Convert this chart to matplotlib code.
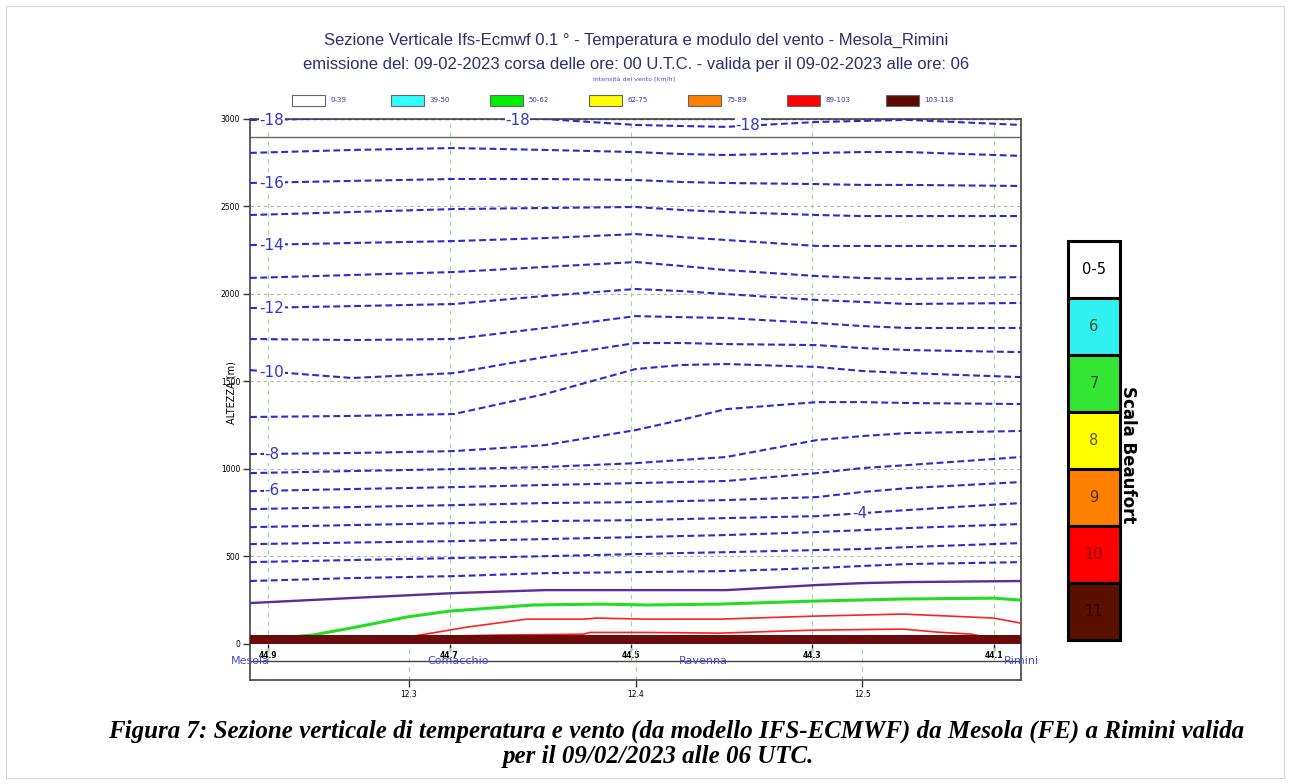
import numpy as np
import matplotlib.pyplot as plt
from matplotlib.patches import Rectangle

# section Mesola -> Rimini (end points)
section_lon = [12.23, 12.57]
section_lat = [44.92, 44.07]

lat_ticks = [44.9, 44.7, 44.5, 44.3, 44.1]
lon_ticks = [12.3, 12.4, 12.5]
alt_ticks = [0, 500, 1000, 1500, 2000, 2500, 3000]

cities = ["Mesola", "Comacchio", "Ravenna", "Rimini"]
city_lon = [12.23, 12.322, 12.43, 12.57]

# isotherm heights (m), one row per temperature
iso_lon = [12.23, 12.275, 12.32, 12.36, 12.40, 12.42, 12.44, 12.48, 12.50, 12.52, 12.57]
iso_temp = [-18, -17, -16, -15, -14, -13, -12, -11, -10, -9,
            -8, -7, -6, -5, -4, -3, -2, -1]
iso_alt = [
    [2994, 3005, 3010, 3000, 2966, 2960, 2955, 2983, 2989, 2995, 2966],
    [2806, 2823, 2834, 2823, 2811, 2800, 2794, 2806, 2811, 2811, 2789],
    [2634, 2646, 2657, 2657, 2651, 2640, 2634, 2628, 2623, 2623, 2617],
    [2451, 2468, 2485, 2491, 2497, 2480, 2468, 2451, 2445, 2445, 2445],
    [2279, 2291, 2302, 2319, 2342, 2325, 2308, 2274, 2274, 2274, 2274],
    [2091, 2108, 2125, 2154, 2182, 2160, 2136, 2102, 2091, 2085, 2096],
    [1919, 1930, 1942, 1988, 2028, 2016, 1999, 1965, 1954, 1942, 1948],
    [1742, 1736, 1742, 1805, 1873, 1867, 1862, 1833, 1816, 1805, 1805],
    [1564, 1519, 1547, 1639, 1719, 1719, 1713, 1707, 1690, 1679, 1667],
    [1296, 1302, 1313, 1427, 1570, 1593, 1599, 1582, 1559, 1547, 1524],
    [1084, 1090, 1101, 1135, 1221, 1279, 1341, 1381, 1381, 1376, 1370],
    [975, 987, 998, 1010, 1032, 1050, 1067, 1164, 1187, 1204, 1216],
    [872, 884, 895, 907, 918, 924, 930, 975, 1004, 1021, 1067],
    [769, 781, 792, 804, 809, 815, 821, 838, 867, 889, 924],
    [666, 678, 689, 701, 706, 712, 718, 729, 746, 764, 804],
    [569, 578, 586, 598, 609, 615, 621, 638, 649, 661, 684],
    [466, 478, 489, 500, 512, 518, 523, 535, 541, 552, 575],
    [358, 375, 386, 403, 409, 412, 415, 432, 444, 455, 466],
]
purple_alt = [232, 261, 289, 306, 306, 306, 306, 335, 346, 352, 358]

# contour labels
label_temp = [-18, -18, -18, -16, -14, -12, -10, -8, -6, -4]
label_lon = [12.2397, 12.348, 12.4496, 12.2397, 12.2397, 12.2397,
             12.2397, 12.2397, 12.2397, 12.499]
label_alt = [2989, 2989, 2960, 2634, 2279, 1919, 1553, 1079, 878, 746]

# wind speed lines near the ground
green_lon = [12.250, 12.258, 12.277, 12.299, 12.318, 12.355, 12.384,
             12.405, 12.437, 12.478, 12.517, 12.558, 12.570]
green_alt = [40, 50, 95, 152, 186, 221, 226, 221, 226, 243, 255, 260, 249]
red_outer_lon = [12.300, 12.305, 12.326, 12.352, 12.377, 12.383, 12.405,
                 12.437, 12.478, 12.518, 12.548, 12.558, 12.570]
red_outer_alt = [40, 49, 95, 140, 140, 146, 140, 140, 157, 169, 152, 146, 117]
red_inner_lon = [12.320, 12.340, 12.377, 12.380, 12.405, 12.437, 12.478,
                 12.518, 12.533, 12.548, 12.552]
red_inner_alt = [44, 49, 54, 64, 64, 60, 77, 83, 66, 54, 44]
band_lon = [12.23, 12.57]
band_top = [47, 47]

# wind legend
wind_labels = ["0-39", "39-50", "50-62", "62-75", "75-89", "89-103", "103-118"]
wind_colors = ["white", "#33ffff", "#00ee00", "#ffff00", "#ff8000",
               "#ff0000", "#5c0a00"]

# beaufort scale
beaufort_labels = ["0-5", "6", "7", "8", "9", "10", "11"]
beaufort_colors = ["white", "#30f0f0", "#33e633", "#ffff00", "#ff8000",
                   "#ff0000", "#5a1000"]
beaufort_text = ["black", "#2d5a2d", "#1e501e", "#5a5a10", "#5a2a00",
                 "#880000", "#3a0000"]

title1 = "Sezione Verticale Ifs-Ecmwf 0.1 \u00b0 - Temperatura e modulo del vento - Mesola_Rimini"
title2 = "emissione del: 09-02-2023 corsa delle ore: 00 U.T.C. - valida per il 09-02-2023 alle ore: 06"
cap1 = "Figura 7: Sezione verticale di temperatura e vento (da modello IFS-ECMWF) da Mesola (FE) a Rimini valida"
cap2 = "per il 09/02/2023 alle 06 UTC."


slope = (section_lat[1] - section_lat[0]) / (section_lon[1] - section_lon[0])

def lon_to_lat(x):
    return section_lat[0] + (np.asarray(x) - section_lon[0]) * slope

def lat_to_lon(y):
    return section_lon[0] + (np.asarray(y) - section_lat[0]) / slope


W, H = 1290, 784
fig = plt.figure(figsize=(W / 100, H / 100), dpi=100)

ymin, ymax = -208, 3000
ax = fig.add_axes([250 / W, 1 - 680 / H, 771 / W, 561 / H])
ax.set_xlim(section_lon[0], section_lon[1])
ax.set_ylim(ymin, ymax)

# grid
for a in alt_ticks[1:-1]:
    ax.axhline(a, color="#b4b4a4", lw=0.8, ls=(0, (3, 3)), zorder=1)
ax.axhline(alt_ticks[-1], color="#555555", lw=1.0, ls=(0, (3, 2)), zorder=1)
ax.axhline(2897, color="#666666", lw=1.0, zorder=1)
ax.vlines(lat_to_lon(lat_ticks), -100, 3000, colors="#9ad89a", lw=0.8,
          linestyles=(0, (4, 4)), zorder=1)
ax.vlines(lon_ticks, ymin, -20, colors="#9ad89a", lw=0.8,
          linestyles=(0, (4, 4)), zorder=1)

# isotherms
for t, alts in zip(iso_temp, iso_alt):
    ax.plot(iso_lon, alts, color="#2b2bd0", lw=1.5, ls=(0, (3.3, 1.7)), zorder=3)
ax.plot(iso_lon, purple_alt, color="#5a2c9c", lw=1.7, zorder=3)

for t, x, y in zip(label_temp, label_lon, label_alt):
    ax.text(x, y, str(t), color="#3535c8", fontsize=11, ha="center", va="center",
            zorder=4, bbox=dict(fc="white", ec="none", pad=0.3))

# wind
ax.plot(green_lon, green_alt, color="#22dd22", lw=2.2, zorder=3)
ax.plot(red_outer_lon, red_outer_alt, color="#ff2020", lw=1.2, zorder=3)
ax.plot(red_inner_lon, red_inner_alt, color="#ff2020", lw=1.2, zorder=3)
ax.fill_between(band_lon, 0, band_top, color="#6b0b0b", lw=0, zorder=5)

# city line
ax.axhline(-100, color="#444444", lw=1.0, zorder=2)
for name, x in zip(cities, city_lon):
    ax.text(x, -100, name, color="#4a4ad0", fontsize=8, ha="center", va="center",
            zorder=6)

ax.set_yticks(alt_ticks)
ax.set_xticks(lon_ticks)
ax.set_xticklabels([str(v) for v in lon_ticks])
ax.tick_params(labelsize=5.5, length=5, width=1, color="#333333", pad=2)
for s in ax.spines.values():
    s.set_color("#444444")
    s.set_linewidth(1.2)
ax.set_ylabel("ALTEZZA (m)", fontsize=7)
ax.yaxis.set_label_coords(-14 / 771, (680 - 393) / 561)

sec = ax.secondary_xaxis(-ymin / (ymax - ymin), functions=(lon_to_lat, lat_to_lon))
sec.set_xticks(lat_ticks)
sec.set_xticklabels([str(v) for v in lat_ticks])
sec.tick_params(labelsize=5.5, length=5, width=1, color="#222222", pad=0.5)
for lab in sec.get_xticklabels():
    lab.set_fontweight("bold")
sec.spines["bottom"].set_visible(False)

# titles
fig.text(636 / W, 1 - 40 / H, title1, fontsize=12, color="#2e2e6e",
         family="Liberation Sans", ha="center", va="center")
fig.text(636 / W, 1 - 65 / H, title2, fontsize=12, color="#2e2e6e",
         family="Liberation Sans", ha="center", va="center")
fig.text(634 / W, 1 - 80 / H, "intensit\u00e0 del vento [km/h]", fontsize=4.5,
         color="#4a4ae0", ha="center", va="center")

# wind legend row
lax = fig.add_axes([292 / W, 1 - 106 / H, 693 / W, 11 / H])
lax.bar(np.arange(len(wind_labels)), 1, width=0.333, align="edge",
        color=wind_colors, edgecolor="#666666", lw=0.8, clip_on=False)
for i, lab in enumerate(wind_labels):
    lax.text(i + 0.39, 0.5, lab, fontsize=5, color="#3333aa", va="center")
lax.set_xlim(0, len(wind_labels))
lax.set_ylim(0, 1)
lax.axis("off")

# beaufort scale
bax = fig.add_axes([1068 / W, 1 - 640 / H, 52 / W, 399 / H])
n = len(beaufort_labels)
for i, (lab, c, tc) in enumerate(zip(beaufort_labels, beaufort_colors, beaufort_text)):
    bax.bar(0, 1, bottom=n - 1 - i, width=1, color=c, edgecolor="black",
            lw=2.2, clip_on=False)
    bax.text(0, n - 0.5 - i, lab, color=tc, fontsize=10.5, ha="center", va="center")
bax.set_xlim(-0.5, 0.5)
bax.set_ylim(0, n)
bax.axis("off")
fig.text(1128 / W, 1 - 455 / H, "Scala Beaufort", rotation=270, fontsize=12,
         weight="bold", ha="center", va="center")

# caption
fig.text(676 / W, 1 - 731 / H, cap1, family="Liberation Serif", style="italic",
         weight="bold", fontsize=18, ha="center", va="center")
fig.text(658 / W, 1 - 757 / H, cap2, family="Liberation Serif", style="italic",
         weight="bold", fontsize=18, ha="center", va="center")

fig.add_artist(Rectangle((6 / W, 6 / H), 1278 / W, 772 / H, transform=fig.transFigure,
                         fill=False, ec="#d4d4d4", lw=0.8))

fig.savefig("out.png", dpi=100)
